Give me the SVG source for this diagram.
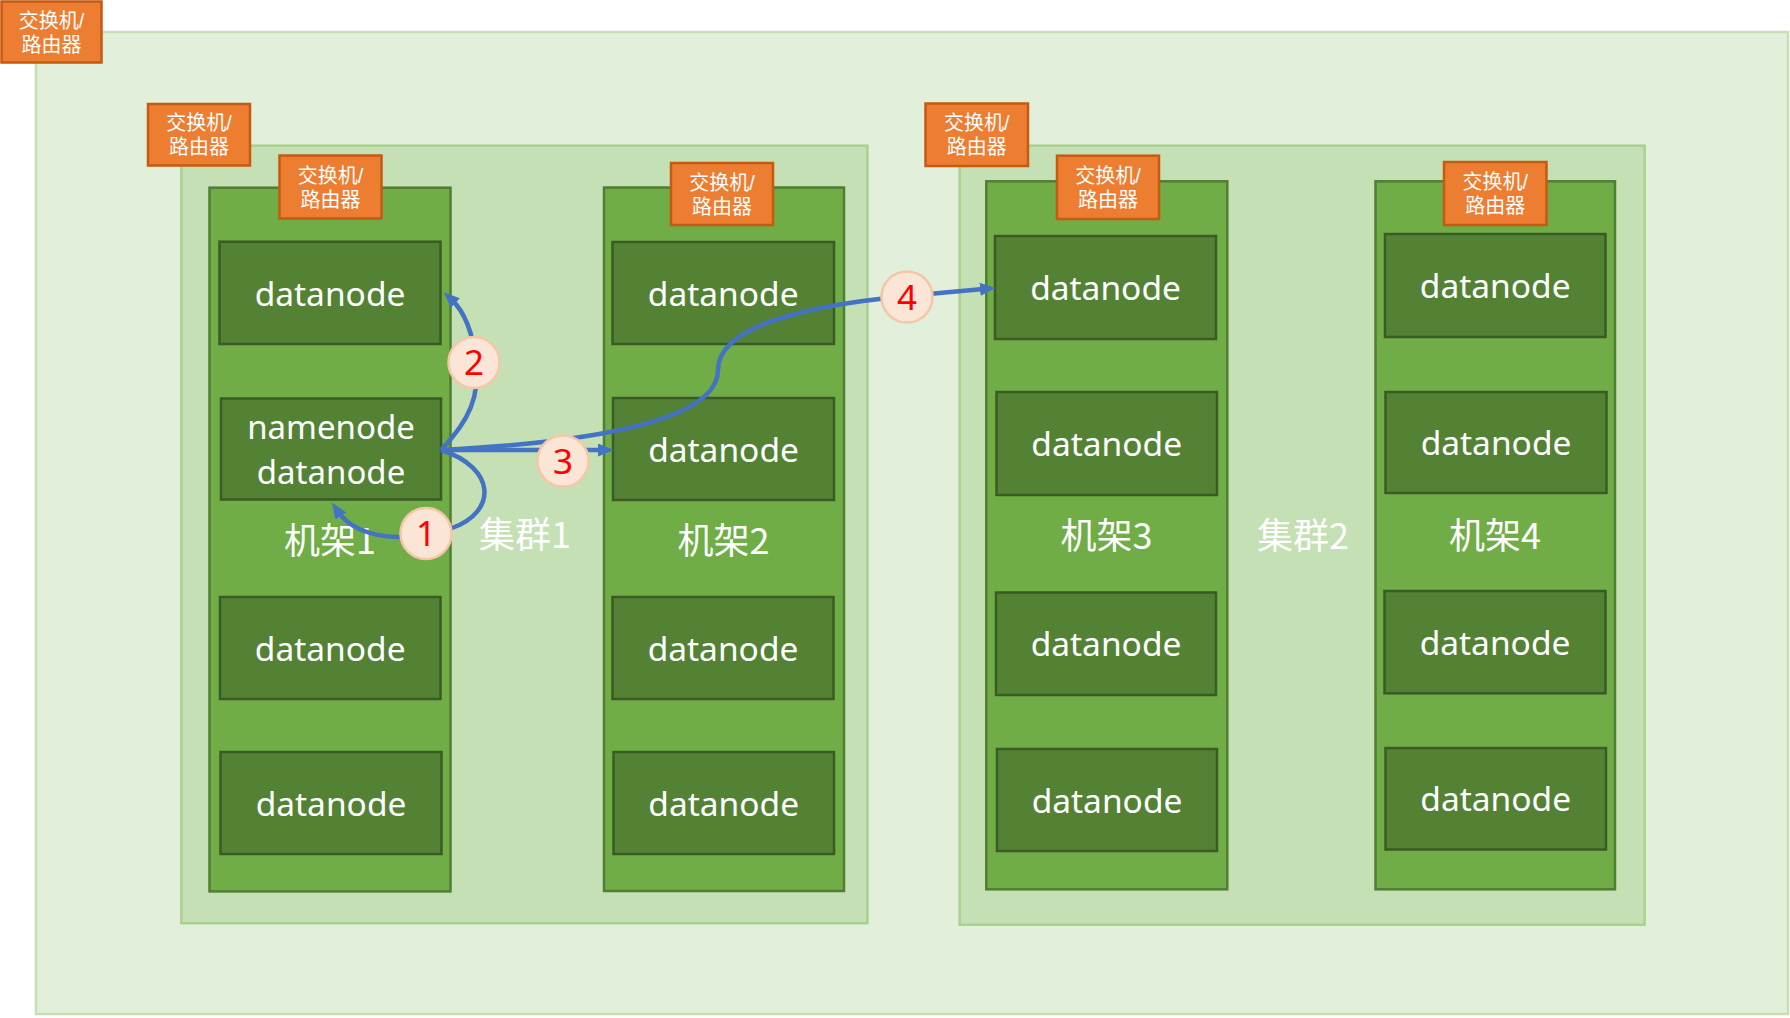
<svg xmlns="http://www.w3.org/2000/svg" width="1790" height="1018" viewBox="0 0 1790 1018">
<defs>
<style>
.outer{fill:#E2EFDA;stroke:#C5E0B4;stroke-width:2.5}
.cluster{fill:#C5E0B4;stroke:#A9D18E;stroke-width:2.5}
.rack{fill:#70AD47;stroke:#507E32;stroke-width:2.5}
.dn{fill:#548235;stroke:#3A5B24;stroke-width:2.5}
.sw{fill:#ED7D31;stroke:#C55A11;stroke-width:2.5}
.swt{font-family:"Liberation Sans","Noto Sans CJK SC",sans-serif;font-size:20px;fill:#FFFFFF;text-anchor:middle}
.dnt{font-family:"Noto Sans","Noto Sans CJK SC",sans-serif;font-size:33.5px;fill:#FFFFFF;text-anchor:middle}
.nnt{font-family:"Noto Sans","Noto Sans CJK SC",sans-serif;font-size:33px;fill:#FFFFFF;text-anchor:middle}
.lbl{font-family:"Noto Sans CJK SC","Noto Sans",sans-serif;font-size:36px;fill:#FFFFFF;text-anchor:middle}
.conn{fill:none;stroke:#4472C4;stroke-width:4.5;stroke-linecap:butt}
.step{fill:#FBE5D6;stroke:#F4C7A8;stroke-width:2.5}
.stept{font-family:"Noto Sans","Liberation Sans",sans-serif;font-size:35px;fill:#FF0000;text-anchor:middle}
</style>
<marker id="arr" markerUnits="userSpaceOnUse" markerWidth="18" markerHeight="15" refX="6" refY="6.5" orient="auto" viewBox="0 0 18 15">
<path d="M0,0 L16,6.5 L0,13 z" fill="#4472C4"/>
</marker>
</defs>

<g id="network">
<rect class="outer" x="36" y="32" width="1752" height="982"/>
<rect class="sw" x="1.5" y="1.5" width="100" height="61"/>
<text class="swt"><tspan x="51.5" y="27.5">交换机/</tspan><tspan x="51.5" y="51.5">路由器</tspan></text>
</g>

<g id="cluster1">
<rect class="cluster" x="181.4" y="145.7" width="686" height="777.5"/>
<rect class="sw" x="148" y="104" width="102" height="61.5"/>
<text class="swt"><tspan x="199" y="130">交换机/</tspan><tspan x="199" y="154">路由器</tspan></text>
<text class="lbl" x="525" y="548">集群1</text>
</g>

<g id="cluster2">
<rect class="cluster" x="959.6" y="145.7" width="685" height="779"/>
<rect class="sw" x="925.5" y="103.5" width="102.5" height="62.5"/>
<text class="swt"><tspan x="976.7" y="130">交换机/</tspan><tspan x="976.7" y="154">路由器</tspan></text>
<text class="lbl" x="1303" y="549">集群2</text>
</g>

<g id="rack1">
<rect class="rack" x="209.5" y="187.7" width="241" height="703.7"/>
<rect class="sw" x="279.5" y="155.5" width="102" height="63"/>
<text class="swt"><tspan x="330.5" y="182.5">交换机/</tspan><tspan x="330.5" y="206.5">路由器</tspan></text>
<text class="lbl" x="330" y="554">机架1</text>
</g>
<g id="rack1-dn1"><rect class="dn" x="219.5" y="241.7" width="221" height="102.3"/><text class="dnt" x="330" y="305.5">datanode</text></g>
<g id="rack1-namenode"><rect class="dn" x="221" y="398.5" width="220" height="101"/><text class="nnt"><tspan x="331" y="438.5">namenode</tspan><tspan x="331" y="483.6">datanode</tspan></text></g>
<g id="rack1-dn3"><rect class="dn" x="220" y="597" width="220.5" height="102"/><text class="dnt" x="330.2" y="660.5">datanode</text></g>
<g id="rack1-dn4"><rect class="dn" x="220.5" y="752" width="221" height="102"/><text class="dnt" x="331" y="815.5">datanode</text></g>

<g id="rack2">
<rect class="rack" x="604" y="187.5" width="240" height="703.5"/>
<rect class="sw" x="671" y="163" width="102" height="62"/>
<text class="swt"><tspan x="722" y="189.5">交换机/</tspan><tspan x="722" y="213.5">路由器</tspan></text>
<text class="lbl" x="723.5" y="554">机架2</text>
</g>
<g id="rack2-dn1"><rect class="dn" x="612.5" y="242" width="221.5" height="102"/><text class="dnt" x="723.2" y="305.5">datanode</text></g>
<g id="rack2-dn2"><rect class="dn" x="613" y="398" width="221" height="102"/><text class="dnt" x="723.5" y="461.5">datanode</text></g>
<g id="rack2-dn3"><rect class="dn" x="612.5" y="597" width="221" height="102"/><text class="dnt" x="723" y="660.5">datanode</text></g>
<g id="rack2-dn4"><rect class="dn" x="613.5" y="752" width="220.5" height="102"/><text class="dnt" x="723.7" y="815.5">datanode</text></g>

<g id="rack3">
<rect class="rack" x="986.3" y="181.3" width="241" height="708"/>
<rect class="sw" x="1057" y="155.7" width="102" height="63.3"/>
<text class="swt"><tspan x="1108" y="182.8">交换机/</tspan><tspan x="1108" y="206.8">路由器</tspan></text>
<text class="lbl" x="1106.5" y="549">机架3</text>
</g>
<g id="rack3-dn1"><rect class="dn" x="995" y="236" width="221" height="103"/><text class="dnt" x="1105.5" y="300">datanode</text></g>
<g id="rack3-dn2"><rect class="dn" x="996.5" y="392" width="220.5" height="103"/><text class="dnt" x="1106.7" y="456">datanode</text></g>
<g id="rack3-dn3"><rect class="dn" x="996" y="592.5" width="220" height="102.5"/><text class="dnt" x="1106" y="656">datanode</text></g>
<g id="rack3-dn4"><rect class="dn" x="997" y="749" width="220" height="102"/><text class="dnt" x="1107" y="812.5">datanode</text></g>

<g id="rack4">
<rect class="rack" x="1375.5" y="181.3" width="239.5" height="708"/>
<rect class="sw" x="1444" y="162" width="102.5" height="63"/>
<text class="swt"><tspan x="1495.2" y="189">交换机/</tspan><tspan x="1495.2" y="213">路由器</tspan></text>
<text class="lbl" x="1495" y="549">机架4</text>
</g>
<g id="rack4-dn1"><rect class="dn" x="1385" y="234" width="220.5" height="103"/><text class="dnt" x="1495.2" y="298">datanode</text></g>
<g id="rack4-dn2"><rect class="dn" x="1385.5" y="392" width="221" height="101"/><text class="dnt" x="1496" y="455">datanode</text></g>
<g id="rack4-dn3"><rect class="dn" x="1384.5" y="591" width="221" height="102.3"/><text class="dnt" x="1495" y="654.5">datanode</text></g>
<g id="rack4-dn4"><rect class="dn" x="1385.5" y="748" width="220.5" height="101.5"/><text class="dnt" x="1495.7" y="811">datanode</text></g>

<g id="connectors">
<path class="conn" marker-end="url(#arr)" d="M441,450 C497,468 497,512 452,528 C438,533 415,538 400,537 C370,537 348,527 337.5,511"/>
<path class="conn" marker-end="url(#arr)" d="M441,450 C470,420 480,395 476,362 C473,333 465,312 451,299"/>
<path class="conn" marker-end="url(#arr)" d="M441,450 L604,450"/>
<path class="conn" marker-end="url(#arr)" d="M441,450 C640,440 718,410 718,370 C718,328 800,306 907,296 L986,288.8"/>
<g id="step1"><circle class="step" cx="426" cy="533.5" r="25.5"/><text class="stept" x="426" y="546">1</text></g>
<g id="step2"><circle class="step" cx="474" cy="362.5" r="25.5"/><text class="stept" x="474" y="375">2</text></g>
<g id="step3"><circle class="step" cx="563" cy="461" r="25.5"/><text class="stept" x="563" y="473.5">3</text></g>
<g id="step4"><circle class="step" cx="907" cy="297" r="25.5"/><text class="stept" x="907" y="309.5">4</text></g>
</g>
</svg>
